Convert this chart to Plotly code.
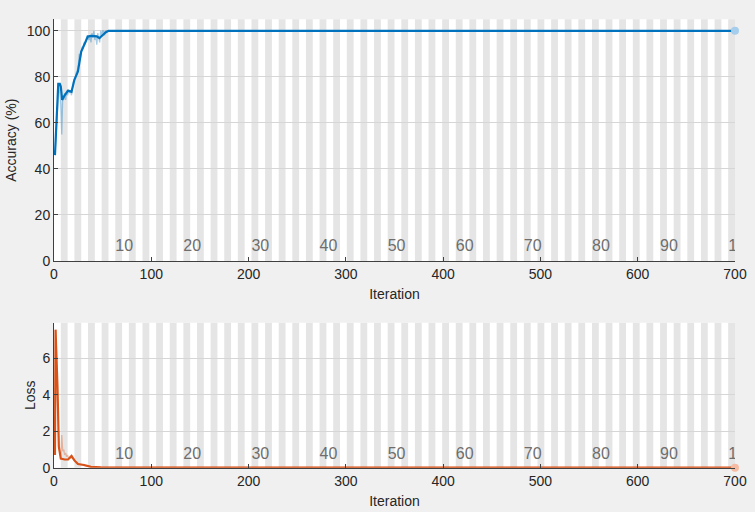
import plotly.graph_objects as go

# training progress data
n_epochs = 100
iters_per_epoch = 7
max_iter = 700

acc_raw_iter = list(range(1, 56)) + [700]
acc_raw = [46, 55, 64, 70, 76, 73, 68, 55, 72, 70, 73, 70, 74, 72, 74, 73, 74, 72, 76, 78,
           79, 80, 82, 83, 85, 90, 88, 92, 93, 92, 95, 94, 96, 98, 97, 96, 98, 95, 99, 97,
           100, 96, 98, 94, 99, 97, 95, 100, 98, 100, 100, 98, 100, 100, 100, 100]

acc_smooth_iter = [1, 2, 3, 4.4, 6, 7, 8.4, 11, 14.5, 18, 21, 24.6, 28, 31.4, 34.8, 38, 41.6,
                   44, 46.7, 50, 53, 56, 60, 700]
acc_smooth = [46, 55, 63, 77, 77, 75.8, 70, 72, 74, 73.5, 78.7, 82.3, 91, 94, 97.5, 97.8, 97.5,
              97.6, 96.8, 98.3, 99.3, 100, 100, 100]

loss_raw_iter = list(range(1, 51)) + [700]
loss_raw = [0.7, 7.6, 5.0, 2.5, 1.2, 0.8, 0.6, 1.8, 0.9, 1.0, 0.7, 0.8, 0.6, 0.7, 0.5, 0.6,
            0.5, 0.7, 0.6, 0.5, 0.4, 0.35, 0.3, 0.25, 0.22, 0.2, 0.18, 0.16, 0.15, 0.13,
            0.12, 0.1, 0.09, 0.08, 0.07, 0.06, 0.06, 0.05, 0.05, 0.04, 0.04, 0.03, 0.03,
            0.03, 0.02, 0.02, 0.02, 0.02, 0.01, 0.01, 0.0]

loss_smooth_iter = [1, 1.6, 3.6, 5, 7, 11, 14.5, 18, 21, 24.6, 31, 38, 48, 60, 700]
loss_smooth = [0.7, 7.57, 4.45, 1.15, 0.5, 0.45, 0.45, 0.64, 0.4, 0.2, 0.15, 0.05, 0.02, 0.01, 0.0]

epoch_labels = [str(e) for e in range(10, 101, 10)]
epoch_label_iter = [iters_per_epoch * (e - 1) for e in range(10, 101, 10)]

BLUE = "#0072BD"
ORANGE = "#D95319"
FONT = "Liberation Sans"

fig = go.Figure()

# raw and smoothed accuracy
fig.add_trace(go.Scatter(x=acc_raw_iter, y=acc_raw, mode="lines",
                         line=dict(color="rgba(0,114,189,0.35)", width=1.3),
                         xaxis="x", yaxis="y", hoverinfo="skip"))
fig.add_trace(go.Scatter(x=acc_smooth_iter, y=acc_smooth, mode="lines",
                         line=dict(color=BLUE, width=2.2), xaxis="x", yaxis="y"))
fig.add_trace(go.Scatter(x=[max_iter], y=[acc_smooth[-1]], mode="markers",
                         marker=dict(color="#A6CDEB", size=8), cliponaxis=False,
                         xaxis="x", yaxis="y"))

# raw and smoothed loss
fig.add_trace(go.Scatter(x=loss_raw_iter, y=loss_raw, mode="lines",
                         line=dict(color="rgba(217,83,25,0.35)", width=1.3),
                         xaxis="x2", yaxis="y2", hoverinfo="skip"))
fig.add_trace(go.Scatter(x=loss_smooth_iter, y=loss_smooth, mode="lines",
                         line=dict(color=ORANGE, width=2.2), xaxis="x2", yaxis="y2"))
fig.add_trace(go.Scatter(x=[max_iter], y=[loss_smooth[-1]], mode="markers",
                         marker=dict(color="#F6BCA3", size=8), cliponaxis=False,
                         xaxis="x2", yaxis="y2"))

# epoch labels (clipped at the plot edge like the original)
for xa, ya, ylab in [("x", "y", 6), ("x2", "y2", 0.7)]:
    fig.add_trace(go.Scatter(x=epoch_label_iter, y=[ylab] * len(epoch_labels),
                             mode="text", text=epoch_labels, textposition="middle right",
                             textfont=dict(family=FONT, size=16, color="#6E6E6E"),
                             cliponaxis=True, xaxis=xa, yaxis=ya, hoverinfo="skip"))

# alternating epoch bands
shapes = []
for e in range(2, n_epochs + 1, 2):
    for xr, yr in [("x", "y domain"), ("x2", "y2 domain")]:
        shapes.append(dict(type="rect", xref=xr, yref=yr,
                           x0=iters_per_epoch * (e - 1), x1=iters_per_epoch * e,
                           y0=0, y1=1, fillcolor="#E5E5E5", line=dict(width=0),
                           layer="below"))

axis_common = dict(showline=True, linecolor="#404040", linewidth=1, ticks="inside",
                   ticklen=4, tickcolor="#404040", mirror=False, automargin=False,
                   tickfont=dict(family=FONT, size=14, color="#262626"), zeroline=False)

fig.update_layout(
    width=755, height=512,
    margin=dict(l=0, r=0, t=0, b=0),
    paper_bgcolor="#F0F0F0", plot_bgcolor="white",
    showlegend=False,
    shapes=shapes,
    font=dict(family=FONT, color="#262626"),
    xaxis=dict(domain=[0.0715, 0.9735], anchor="y", range=[0, max_iter],
               tickvals=list(range(0, 701, 100)), showgrid=False,
               title=dict(text="Iteration", font=dict(size=14), standoff=8),
               **axis_common),
    yaxis=dict(domain=[0.4902, 0.9623], anchor="x", range=[0, 105],
               tickvals=list(range(0, 101, 20)), showgrid=True, gridcolor="#D6D6D6",
               title=dict(text="Accuracy (%)", font=dict(size=14), standoff=6),
               **axis_common),
    xaxis2=dict(domain=[0.0715, 0.9735], anchor="y2", range=[0, max_iter],
                tickvals=list(range(0, 701, 100)), showgrid=False,
                title=dict(text="Iteration", font=dict(size=14), standoff=8),
                **axis_common),
    yaxis2=dict(domain=[0.0865, 0.3697], anchor="x2", range=[0, 7.96],
                tickvals=[0, 2, 4, 6], showgrid=True, gridcolor="#D6D6D6",
                title=dict(text="Loss", font=dict(size=14), standoff=3),
                **axis_common),
)

fig.write_html("out.html", config={"displayModeBar": False},
               post_script="document.body.style.margin='0';"
                           "document.body.style.background='#F0F0F0';")
